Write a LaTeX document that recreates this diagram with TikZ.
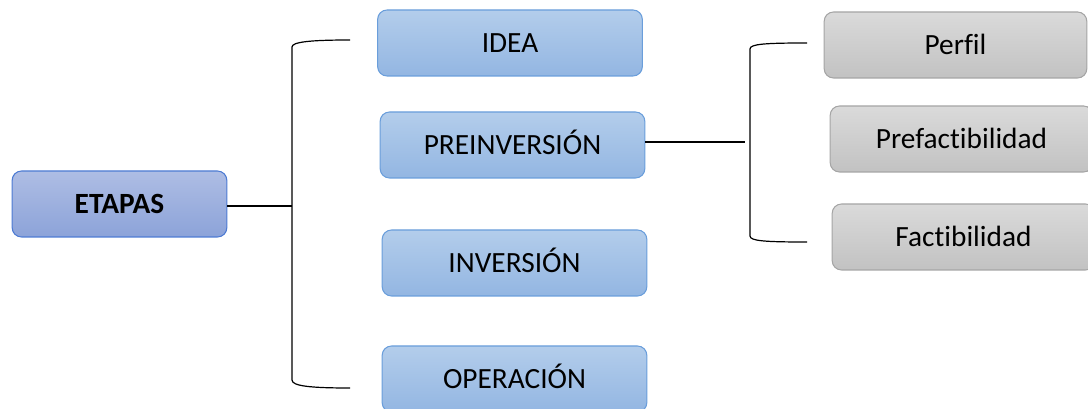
\documentclass[tikz,border=0pt]{standalone}
\usepackage{fontspec}
\setmainfont[Ligatures={NoCommon}]{Carlito}
\definecolor{bluetop}{HTML}{B3CDEB}
\definecolor{bluebot}{HTML}{93B6E2}
\definecolor{blueedge}{HTML}{6A9EDB}
\definecolor{etop}{HTML}{AEBDE4}
\definecolor{ebot}{HTML}{8CA3D9}
\definecolor{eedge}{HTML}{4D7BD3}
\definecolor{graytop}{HTML}{DADADA}
\definecolor{graybot}{HTML}{C2C2C2}
\definecolor{grayedge}{HTML}{A5A5A5}
\begin{document}
\begin{tikzpicture}[x=0.75pt,y=-0.75pt,
  box/.style={rounded corners=7pt, minimum height=49.5pt, font=\fontsize{22}{26}\selectfont, text=black, line width=0.8pt, text height=14.2pt, text depth=0pt},
  bluebox/.style={box, draw=blueedge, top color=bluetop, bottom color=bluebot, minimum width=198.5pt},
  mainbox/.style={box, draw=eedge, top color=etop, bottom color=ebot, minimum width=161pt, font=\fontsize{22}{26}\selectfont\bfseries},
  graybox/.style={box, draw=grayedge, top color=graytop, bottom color=graybot, minimum width=197pt},
  link/.style={line width=0.9pt, draw=black}]
\useasboundingbox (0,0) rectangle (1088,409);
\clip (0,0) rectangle (1088,409);
\node[mainbox] (etapas) at (119.5,204) {ETAPAS};
\node[bluebox] (idea) at (510,43) {IDEA};
\node[bluebox] (preinv) at (512.5,145) {PREINVERSIÓN};
\node[bluebox] (inv) at (514.5,263) {INVERSIÓN};
\node[bluebox] (oper) at (514.5,379) {OPERACIÓN};
\node[graybox] (perfil) at (955.5,45) {Perfil};
\node[graybox] (prefact) at (961.5,139) {Prefactibilidad};
\node[graybox] (fact) at (963.5,237) {Factibilidad};
% bracket 1
\coordinate (b1mid) at (292,206);
\coordinate (b1top) at (350,40);
\coordinate (b1bot) at (350,388);
\draw[link] (etapas.east |- b1mid) -- (b1mid);
\draw[link] (b1top) .. controls (310,40) and (292,42) .. (292,47) -- (292,380) .. controls (292,386) and (310,388) .. (b1bot);
% bracket 2
\coordinate (b2mid) at (745,142);
\coordinate (b2top) at (807,43);
\coordinate (b2bot) at (807,242);
\draw[link] (preinv.east |- b2mid) -- (b2mid);
\draw[link] (b2top) .. controls (765,43) and (750,44) .. (750,49) -- (750,236) .. controls (750,241) and (765,242) .. (b2bot);
\end{tikzpicture}
\end{document}
